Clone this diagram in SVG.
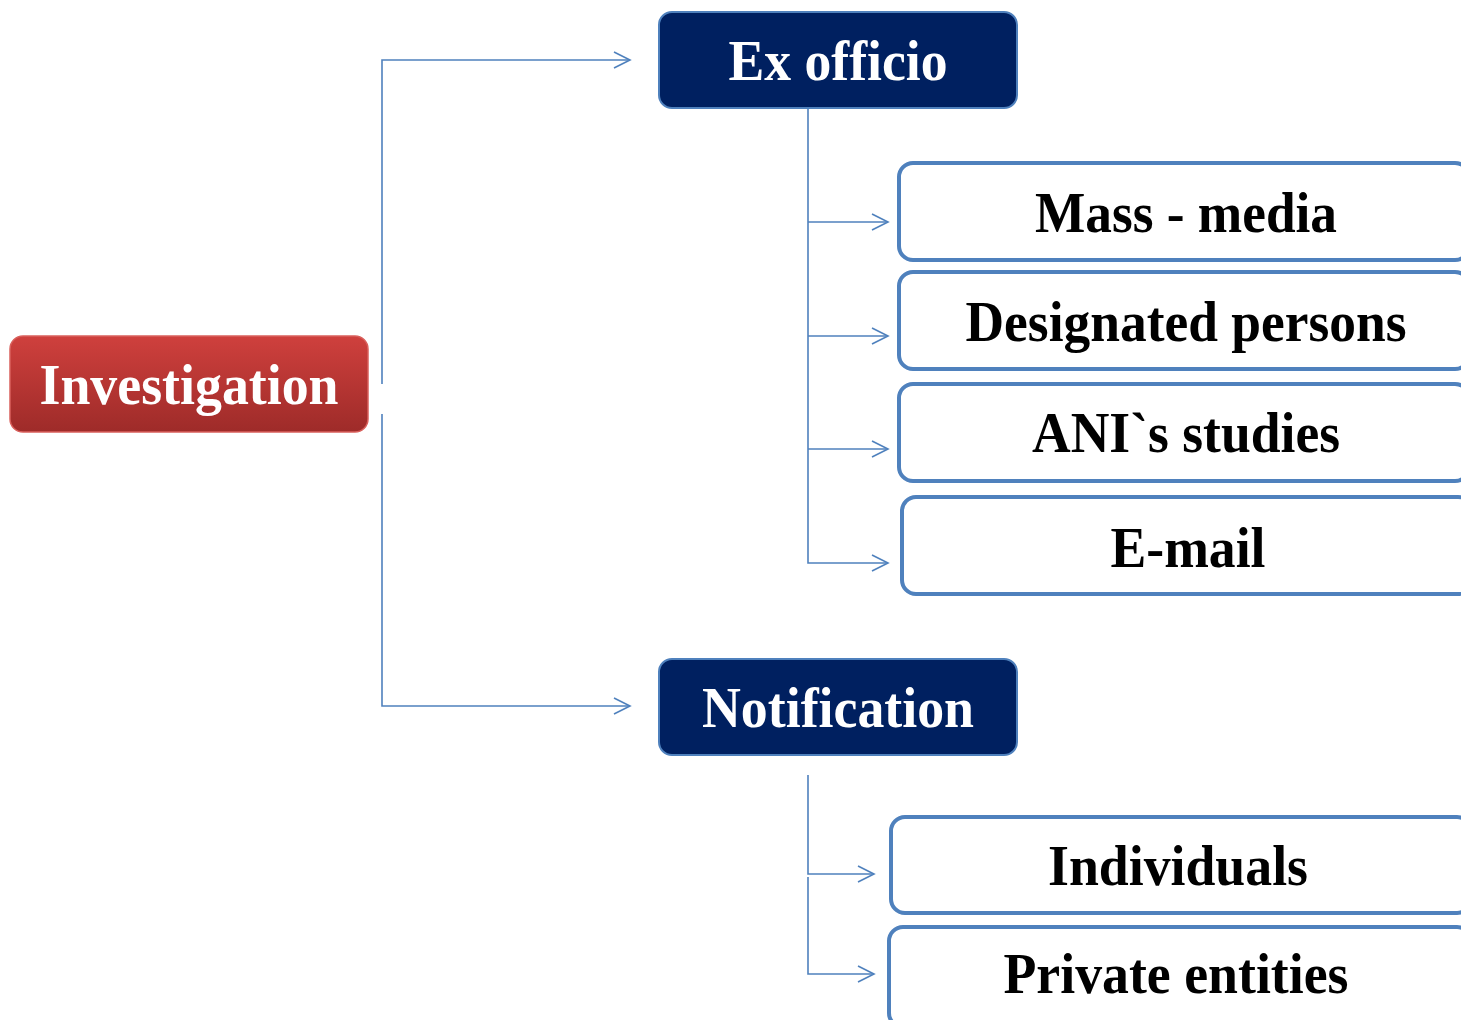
<svg xmlns="http://www.w3.org/2000/svg" width="1461" height="1020" viewBox="0 0 1461 1020">
<style>
.lbl{font-family:"Liberation Serif","Times New Roman",serif;font-weight:bold;font-size:57px;text-anchor:middle}
.wt{fill:#ffffff}
.bk{fill:#000000}
.dark{fill:#002060;stroke:#4F81BD;stroke-width:2}
.leaf{fill:#ffffff;stroke:#4F81BD;stroke-width:4}
.conn{fill:none;stroke:#4F81BD;stroke-width:1.6}
</style>
<defs>
<linearGradient id="redg" x1="0" y1="0" x2="0" y2="1">
<stop offset="0" stop-color="#CF403D"/>
<stop offset="1" stop-color="#9E2B29"/>
</linearGradient>
<marker id="chev" markerUnits="userSpaceOnUse" markerWidth="20" markerHeight="20" viewBox="-18 -10 20 20" refX="0" refY="0" orient="auto">
<path d="M-16,-8 L0,0 L-16,8" fill="none" stroke="#4F81BD" stroke-width="1.6"/>
</marker>
</defs>
<g id="connectors">
<path class="conn" d="M382,384 L382,60 L630,60" marker-end="url(#chev)"/>
<path class="conn" d="M382,414 L382,706 L630,706" marker-end="url(#chev)"/>
<path class="conn" d="M808,108 L808,563 L888,563" marker-end="url(#chev)"/>
<path class="conn" d="M808,222 L888,222" marker-end="url(#chev)"/>
<path class="conn" d="M808,336 L888,336" marker-end="url(#chev)"/>
<path class="conn" d="M808,449 L888,449" marker-end="url(#chev)"/>
<path class="conn" d="M808,775 L808,874 L874,874" marker-end="url(#chev)"/>
<path class="conn" d="M808,877 L808,974 L874,974" marker-end="url(#chev)"/>
</g>
<g id="investigation">
<rect x="10" y="336" width="358" height="96" rx="13" fill="url(#redg)" stroke="#D9605C" stroke-width="1.5"/>
<text class="lbl wt" x="189" y="404" textLength="299" lengthAdjust="spacingAndGlyphs">Investigation</text>
</g>
<g id="ex-officio">
<rect class="dark" x="659" y="12" width="358" height="96" rx="13"/>
<text class="lbl wt" x="838" y="80" textLength="219" lengthAdjust="spacingAndGlyphs">Ex officio</text>
</g>
<g id="notification">
<rect class="dark" x="659" y="659" width="358" height="96" rx="13"/>
<text class="lbl wt" x="838" y="727" textLength="272" lengthAdjust="spacingAndGlyphs">Notification</text>
</g>
<g id="mass-media">
<rect class="leaf" x="899" y="163" width="570" height="97" rx="14"/>
<text class="lbl bk" x="1186" y="232" textLength="302" lengthAdjust="spacingAndGlyphs">Mass - media</text>
</g>
<g id="designated-persons">
<rect class="leaf" x="899" y="272" width="570" height="97" rx="14"/>
<text class="lbl bk" x="1186" y="341" textLength="441" lengthAdjust="spacingAndGlyphs">Designated persons</text>
</g>
<g id="ani-studies">
<rect class="leaf" x="899" y="384" width="570" height="97" rx="14"/>
<text class="lbl bk" x="1186" y="452" textLength="308" lengthAdjust="spacingAndGlyphs">ANI`s studies</text>
</g>
<g id="e-mail">
<rect class="leaf" x="902" y="497" width="570" height="97" rx="14"/>
<text class="lbl bk" x="1188" y="567" textLength="155" lengthAdjust="spacingAndGlyphs">E-mail</text>
</g>
<g id="individuals">
<rect class="leaf" x="891" y="817" width="580" height="96" rx="14"/>
<text class="lbl bk" x="1178" y="885" textLength="260" lengthAdjust="spacingAndGlyphs">Individuals</text>
</g>
<g id="private-entities">
<rect class="leaf" x="889" y="927" width="582" height="100" rx="14"/>
<text class="lbl bk" x="1176" y="993" textLength="345" lengthAdjust="spacingAndGlyphs">Private entities</text>
</g>
</svg>
